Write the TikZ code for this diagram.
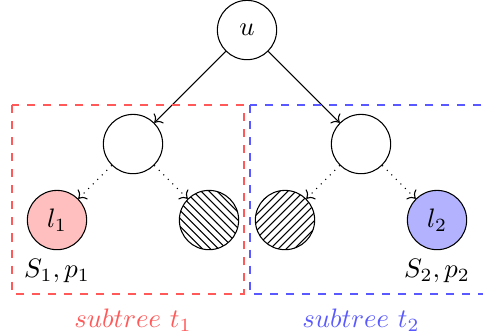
\documentclass[tikz,border=0pt]{standalone}
\usetikzlibrary{arrows.meta, positioning, patterns}
\colorlet{treered}{red!65}
\colorlet{treeblue}{blue!65}

\begin{document}
\begin{tikzpicture}[
    vertex/.style={draw, circle, minimum size=0.78cm, inner sep=0pt},
    edge/.style={->},
    weak/.style={->, dotted},
    subtree/.style={dashed, thick},
]

\useasboundingbox (-3.25,0.395) rectangle (3.105,-4.01);
\clip (-3.25,0.395) rectangle (3.105,-4.01);

% --- Root ---
\node[vertex] (u) at (0,0) {$u$};

% --- Inner nodes ---
\node[vertex] (a) at (-1.5,-1.5) {};
\node[vertex] (b) at (1.5,-1.5) {};

% --- Leaves ---
\node[vertex, fill=red!25] (l1) at (-2.5,-2.5) {$l_1$};
\node[vertex, pattern=north west lines] (h1) at (-0.5,-2.5) {};
\node[vertex, pattern=north east lines] (h2) at (0.5,-2.5) {};
\node[vertex, fill=blue!30] (l2) at (2.5,-2.5) {$l_2$};

\node[below=0pt of l1] (s1) {$S_1, p_1$};
\node[below=0pt of l2] (s2) {$S_2, p_2$};

% --- Edges ---
\draw[edge] (u) -- (a);
\draw[edge] (u) -- (b);
\draw[weak] (a) -- (l1);
\draw[weak] (a) -- (h1);
\draw[weak] (b) -- (h2);
\draw[weak] (b) -- (l2);

% --- Subtree boxes ---
\draw[subtree, treered] (-3.09,-0.99) rectangle (-0.04,-3.47);
\draw[subtree, treeblue] (0.04,-0.99) rectangle (3.3,-3.47);

\node[text=treered] (t1) at (-1.5,-3.82) {$subtree\ t_1$};
\node[text=treeblue] (t2) at (1.5,-3.82) {$subtree\ t_2$};

\end{tikzpicture}
\end{document}
